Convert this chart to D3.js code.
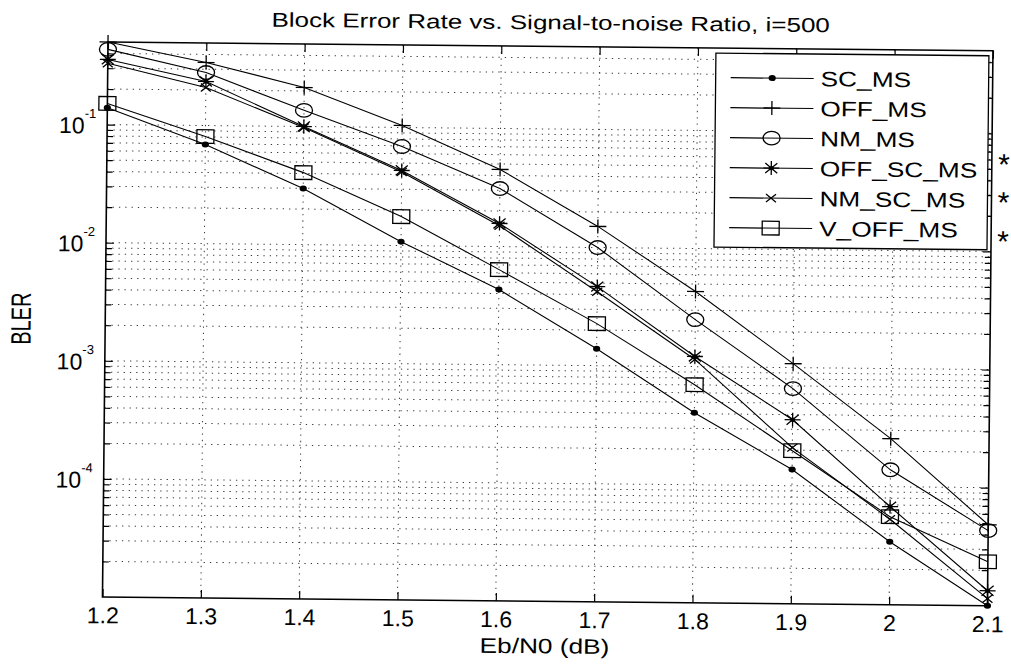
<!DOCTYPE html>
<html>
<head>
<meta charset="utf-8">
<script src="https://cdn.jsdelivr.net/npm/d3@7"></script>
<style>
  html, body { margin: 0; padding: 0; background: #fff; }
  svg { display: block; }
</style>
</head>
<body>
<svg id="chart" width="1011" height="665"></svg>
<script>
// Eb/N0 sweep (dB)
const ebn0 = [1.2, 1.3, 1.4, 1.5, 1.6, 1.7, 1.8, 1.9, 2.0, 2.1];

// Block error rate per decoder variant
const scMs    = [0.139, 0.069, 0.0299, 0.0108, 0.00433, 0.00139, 0.000407, 0.000137, 3.42e-5, 1.0e-5];
const offMs   = [0.5, 0.342, 0.214, 0.104, 0.045, 0.0151, 0.00433, 0.00108, 0.000255, 4.85e-5];
const nmMs    = [0.433, 0.281, 0.137, 0.069, 0.031, 0.0100, 0.0025, 0.000664, 0.000139, 4.33e-5];
const offScMs = [0.356, 0.236, 0.100, 0.0433, 0.0157, 0.00467, 0.00122, 0.000362, 6.78e-5, 1.34e-5];
const nmScMs  = [0.33, 0.21, 0.098, 0.042, 0.015, 0.00423, 0.00115, 0.00021, 5.3e-5, 1.15e-5];
const vOffMs  = [0.151, 0.0807, 0.0407, 0.0176, 0.00638, 0.00227, 0.000703, 0.000198, 5.57e-5, 2.36e-5];

const seriesNames   = ["SC_MS", "OFF_MS", "NM_MS", "OFF_SC_MS", "NM_SC_MS", "V_OFF_MS"];
const seriesMarkers = ["dot", "plus", "circle", "star", "cross", "square"];
const seriesValues  = [scMs, offMs, nmMs, offScMs, nmScMs, vOffMs];

// Axis ticks
const xTickValues = [1.2, 1.3, 1.4, 1.5, 1.6, 1.7, 1.8, 1.9, 2.0, 2.1];
const xTickLabels = ["1.2", "1.3", "1.4", "1.5", "1.6", "1.7", "1.8", "1.9", "2", "2.1"];
const yTickExponents = [-1, -2, -3, -4];
const yDomain = [1e-5, 0.5];

const titleText  = "Block Error Rate vs. Signal-to-noise Ratio, i=500";
const xLabelText = "Eb/N0 (dB)";
const yLabelText = "BLER";
const sideNotes  = ["*", "*", "*"];

// ---- layout ----
const plot = { left: 108, top: 42, width: 885, height: 555 };
const FONT = "'Liberation Sans', Arial, Helvetica, sans-serif";

const svg = d3.select("#chart");
svg.append("rect").attr("width", 1011).attr("height", 665).attr("fill", "#fff");

// the whole figure sits slightly tilted
const fig = svg.append("g")
  .attr("transform", `rotate(0.57, ${plot.left}, ${plot.top})`);

const x = d3.scaleLinear().domain([1.2, 2.1]).range([plot.left, plot.left + plot.width]);
const y = d3.scaleLog().domain(yDomain).range([plot.top + plot.height, plot.top]);

// ---- grid ----
const gridStyle = g => g.attr("stroke", "#3a3a3a").attr("stroke-width", 1)
  .attr("stroke-dasharray", "1.3,5").attr("fill", "none");

const grid = fig.append("g").call(gridStyle);

grid.selectAll("line.vx")
  .data(xTickValues.slice(1, -1))
  .join("line").attr("class", "vx")
  .attr("x1", d => x(d)).attr("x2", d => x(d))
  .attr("y1", plot.top).attr("y2", plot.top + plot.height);

const yGridValues = [];
for (let k = -5; k <= -1; k++) {
  for (let m = 1; m <= 9; m++) {
    const v = m * Math.pow(10, k);
    if (v > yDomain[0] * 1.0001 && v < yDomain[1] * 0.9999) yGridValues.push(v);
  }
}
const yMajor = yTickExponents.map(e => Math.pow(10, e));
const yMinor = yGridValues.filter(v => !yMajor.some(m => Math.abs(m - v) / m < 1e-6));

grid.selectAll("line.hy")
  .data(yGridValues)
  .join("line").attr("class", "hy")
  .attr("x1", plot.left).attr("x2", plot.left + plot.width)
  .attr("y1", d => y(d)).attr("y2", d => y(d));

// ---- axes (ticks point inward) ----
const MAJ = 8, MIN = 6;
const strip = g => {
  g.select(".domain").remove();
  g.attr("font-family", FONT).attr("font-size", 23);
  g.selectAll(".tick line").attr("stroke", "#000").attr("stroke-width", 1.2);
  g.selectAll(".tick text").attr("fill", "#000");
};

fig.append("g")
  .attr("transform", `translate(0,${plot.top + plot.height})`)
  .call(d3.axisBottom(x).tickValues(xTickValues)
    .tickFormat((d, i) => xTickLabels[i]).tickSizeInner(-MAJ).tickSizeOuter(0).tickPadding(10))
  .call(strip);

fig.append("g")
  .attr("transform", `translate(0,${plot.top})`)
  .call(d3.axisTop(x).tickValues(xTickValues).tickFormat("").tickSizeInner(-MAJ).tickSizeOuter(0))
  .call(strip);

const yAxisLeft = fig.append("g")
  .attr("transform", `translate(${plot.left},0)`)
  .call(d3.axisLeft(y).tickValues(yMajor).tickFormat("").tickSizeInner(-MAJ).tickSizeOuter(0).tickPadding(11))
  .call(strip);

// decade labels as 10 with a raised exponent
yAxisLeft.selectAll(".tick").each(function (d, i) {
  const t = d3.select(this).append("text")
    .attr("x", -11).attr("dy", "0.37em")
    .attr("text-anchor", "end").attr("fill", "#000");
  t.append("tspan").text("10");
  t.append("tspan").attr("font-size", 13).attr("dy", -15.5).text(String(yTickExponents[i]));
});

fig.append("g")
  .attr("transform", `translate(${plot.left},0)`)
  .call(d3.axisLeft(y).tickValues(yMinor).tickFormat("").tickSizeInner(-MIN).tickSizeOuter(0))
  .call(strip);

fig.append("g")
  .attr("transform", `translate(${plot.left + plot.width},0)`)
  .call(d3.axisRight(y).tickValues(yMajor).tickFormat("").tickSizeInner(-MAJ).tickSizeOuter(0))
  .call(strip);

fig.append("g")
  .attr("transform", `translate(${plot.left + plot.width},0)`)
  .call(d3.axisRight(y).tickValues(yMinor).tickFormat("").tickSizeInner(-MIN).tickSizeOuter(0))
  .call(strip);

// ---- data ----
fig.append("clipPath").attr("id", "plot-clip")
  .append("rect")
  .attr("x", plot.left).attr("y", plot.top)
  .attr("width", plot.width).attr("height", plot.height);

const line = d3.line().x(d => x(d[0])).y(d => y(d[1]));

const seriesData = seriesNames.map((name, i) => ({
  name,
  marker: seriesMarkers[i],
  points: ebn0.map((e, j) => [e, seriesValues[i][j]])
}));

fig.append("g").attr("clip-path", "url(#plot-clip)")
  .selectAll("path")
  .data(seriesData)
  .join("path")
  .attr("d", d => line(d.points))
  .attr("fill", "none").attr("stroke", "#000").attr("stroke-width", 1.1);

// marker shapes (slightly wider than tall)
function drawMarker(g, type) {
  const p = (d) => g.append("path").attr("d", d).attr("stroke", "#000")
    .attr("stroke-width", 1.3).attr("fill", "none");
  switch (type) {
    case "dot":
      g.append("ellipse").attr("rx", 3.6).attr("ry", 3).attr("fill", "#000");
      break;
    case "plus":
      p("M-8.5,0H8.5M0,-7V7");
      break;
    case "circle":
      g.append("ellipse").attr("rx", 8.5).attr("ry", 6.8)
        .attr("fill", "none").attr("stroke", "#000").attr("stroke-width", 1.3);
      break;
    case "star":
      p("M-8,0H8M0,-7V7M-6,-5L6,5M-6,5L6,-5");
      g.append("ellipse").attr("rx", 2.6).attr("ry", 2.2).attr("fill", "#000");
      break;
    case "cross":
      p("M-5,-4L5,4M-5,4L5,-4");
      break;
    case "square":
      g.append("rect").attr("x", -8.5).attr("y", -6.8).attr("width", 17).attr("height", 13.6)
        .attr("fill", "none").attr("stroke", "#000").attr("stroke-width", 1.3);
      break;
  }
}

const markerLayer = fig.append("g");
seriesData.forEach(sd => {
  markerLayer.append("g").selectAll("g")
    .data(sd.points)
    .join("g")
    .attr("transform", d => `translate(${x(d[0])},${y(d[1])})`)
    .each(function () { drawMarker(d3.select(this), sd.marker); });
});

// ---- box ----
fig.append("rect")
  .attr("x", plot.left).attr("y", plot.top)
  .attr("width", plot.width).attr("height", plot.height)
  .attr("fill", "none").attr("stroke", "#000").attr("stroke-width", 1.6);

// ---- legend ----
const legend = { left: 716, top: 47, right: 989, bottom: 241, row0: 71.5, rowStep: 30,
                 lineX1: 731, lineX2: 814, textX: 821 };
const lg = fig.append("g");
lg.append("rect")
  .attr("x", legend.left).attr("y", legend.top)
  .attr("width", legend.right - legend.left).attr("height", legend.bottom - legend.top)
  .attr("fill", "#fff").attr("stroke", "#000").attr("stroke-width", 1.3);

const rows = lg.selectAll("g.row")
  .data(seriesData)
  .join("g").attr("class", "row")
  .attr("transform", (d, i) => `translate(0,${legend.row0 + i * legend.rowStep})`);

rows.append("line")
  .attr("x1", legend.lineX1).attr("x2", legend.lineX2)
  .attr("stroke", "#000").attr("stroke-width", 1.2);
rows.append("g")
  .attr("transform", `translate(${(legend.lineX1 + legend.lineX2) / 2},0)`)
  .each(function (d) { drawMarker(d3.select(this), d.marker); });
rows.append("text")
  .attr("transform", `translate(${legend.textX},0) scale(1.25,1)`)
  .attr("dy", "0.36em")
  .attr("font-family", FONT).attr("font-size", 21).attr("fill", "#000")
  .text(d => d.name);

// ---- titles ----
fig.append("text")
  .attr("transform", `translate(${plot.left + plot.width / 2},25) scale(1.3,1)`)
  .attr("text-anchor", "middle")
  .attr("font-family", FONT).attr("font-size", 20).attr("fill", "#000")
  .text(titleText);

fig.append("text")
  .attr("transform", `translate(${plot.left + plot.width / 2},649) scale(1.25,1)`)
  .attr("text-anchor", "middle")
  .attr("font-family", FONT).attr("font-size", 21).attr("fill", "#000")
  .text(xLabelText);

fig.append("text")
  .attr("transform", `translate(33.5,${plot.top + plot.height / 2}) rotate(-90) scale(1,1.4)`)
  .attr("text-anchor", "middle")
  .attr("font-family", FONT).attr("font-size", 20).attr("fill", "#000")
  .text(yLabelText);

// side notes to the right of the axes
fig.append("g").selectAll("text")
  .data(sideNotes)
  .join("text")
  .attr("x", 1005)
  .attr("y", (d, i) => [166, 204, 243][i])
  .attr("text-anchor", "middle")
  .attr("font-family", FONT).attr("font-size", 30).attr("fill", "#000")
  .text(d => d);
</script>
</body>
</html>
